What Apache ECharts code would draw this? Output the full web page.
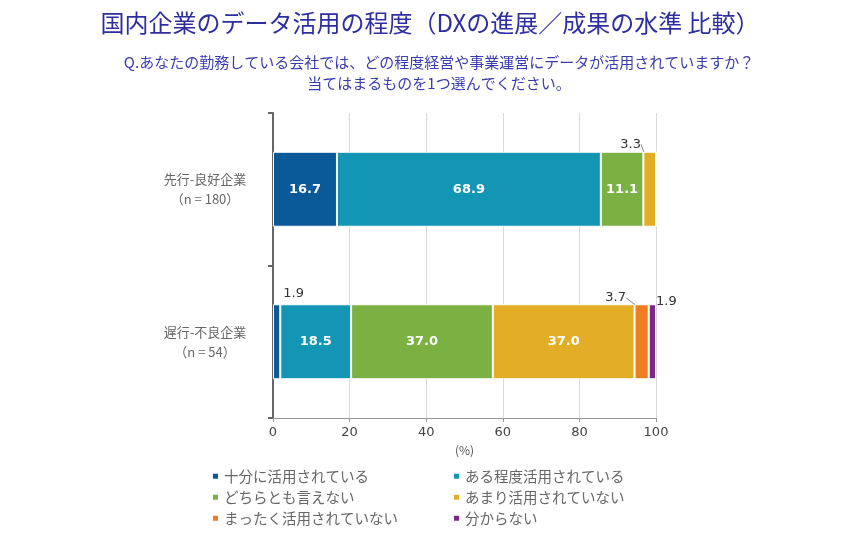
<!DOCTYPE html>
<html><head><meta charset="utf-8">
<script src="https://cdn.jsdelivr.net/npm/echarts@6/dist/echarts.min.js"></script>
<style>html,body{margin:0;padding:0;background:#fff}#c{width:860px;height:538px}</style>
</head><body><div id="c"></div>
<script>
const categories = ['先行-良好企業\n（n = 180）', '遅行-不良企業\n（n = 54）'];
const seriesNames = ['十分に活用されている','ある程度活用されている','どちらとも言えない','あまり活用されていない','まったく活用されていない','分からない'];
const s1 = [16.7, 1.9];
const s2 = [68.9, 18.5];
const s3 = [11.1, 37.0];
const s4 = [3.3, 37.0];
const s5 = [0, 3.7];
const s6 = [0, 1.9];
const xTicks = [0, 20, 40, 60, 80, 100];

const colors = ['#0a5a9a','#1396b3','#7bb042','#e3ae26','#ef7d22','#7a2a86'];
const values = [s1,s2,s3,s4,s5,s6];
const font = '"Noto Sans CJK JP","Noto Sans",sans-serif';

// label tweaks for small segments (series index-data index)
const outside = {
  '3-0': {dx:-19, dy:4, line:true},
  '0-1': {dx:17, dy:1, line:false},
  '4-1': {dx:-26, dy:5, line:true},
  '5-1': {dx:14, dy:9, line:false}
};

const series = values.map((arr, si) => ({
  name: seriesNames[si],
  type: 'bar',
  stack: 'total',
  barWidth: 75,
  itemStyle: {color: colors[si], borderColor: '#fff', borderWidth: 1},
  data: arr.map((v, di) => {
    const o = outside[si + '-' + di];
    const d = {value: v};
    if (v === 0) { d.label = {show:false}; return d; }
    if (o) {
      d.label = {show:true, position:'top', color:'#333', fontWeight:'normal', fontSize:13};
      d.labelLine = {show: o.line, lineStyle:{color:'#888', width:1}};
    } else {
      d.labelLine = {show:false};
    }
    return d;
  }),
  labelLayout: function (p) {
    const o = outside[p.seriesIndex + '-' + p.dataIndex];
    if (o) return {dx:o.dx, dy:o.dy};
    return {};
  },
  labelLine: {show:false},
  label: {show:true, position:'inside', color:'#fff', fontWeight:'bold', fontSize:13,
    fontFamily:'"DejaVu Sans",sans-serif', formatter: p => p.value.toFixed(1)},
  emphasis: {disabled:true}
}));

const chart = echarts.init(document.getElementById('c'));
chart.setOption({
  animation:false,
  textStyle:{fontFamily:font},
  title: [
    {text:'国内企業のデータ活用の程度（DXの進展／成果の水準 比較）', left:'center', top:6,
      textStyle:{fontSize:24, fontWeight:'normal', color:'#2e2ea0', fontFamily:font}},
    {text:'Q.あなたの勤務している会社では、どの程度経営や事業運営にデータが活用されていますか？\n当てはまるものを1つ選んでください。',
      left:434, top:47, textAlign:'center',
      textStyle:{fontSize:15, fontWeight:'normal', color:'#3b3bb0', lineHeight:21, fontFamily:font, align:'center'}}
  ],
  grid:{left:273, right:204, top:113, bottom:120},
  xAxis:{type:'value', min:0, max:100, interval:20,
    name:'(%)', nameLocation:'middle', nameGap:26, nameTextStyle:{color:'#555', fontSize:12},
    axisLine:{show:true, lineStyle:{color:'#999'}},
    axisTick:{show:true, length:4, lineStyle:{color:'#999'}},
    axisLabel:{color:'#444', fontSize:13, margin:8, fontFamily:'"DejaVu Sans",sans-serif'},
    splitLine:{show:true, lineStyle:{color:'#d9d9d9'}}},
  yAxis:{type:'category', data:categories, inverse:true,
    axisLine:{show:true, lineStyle:{color:'#666', width:2}},
    axisTick:{show:true, length:5, lineStyle:{color:'#666', width:2}},
    axisLabel:{color:'#666', fontSize:13, lineHeight:20, margin:18, align:'center', padding:[0,0,0,-100]}},
  legend:[
    {orient:'vertical', left:206, top:464, itemWidth:7, itemHeight:7, itemGap:6.5, icon:'rect',
      data:[seriesNames[0],seriesNames[2],seriesNames[4]], textStyle:{color:'#666', fontSize:14.5}},
    {orient:'vertical', left:447, top:464, itemWidth:7, itemHeight:7, itemGap:6.5, icon:'rect',
      data:[seriesNames[1],seriesNames[3],seriesNames[5]], textStyle:{color:'#666', fontSize:14.5}}
  ],
  series: series
});
</script></body></html>
